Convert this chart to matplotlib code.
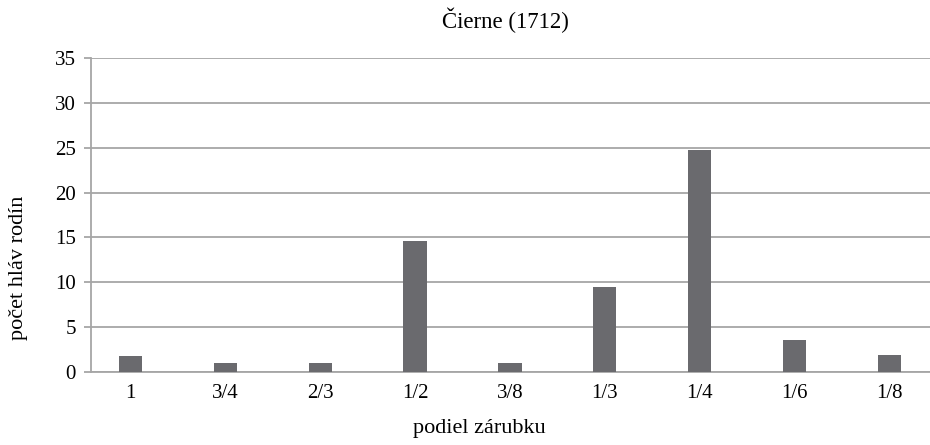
import numpy as np
import matplotlib
matplotlib.use('Agg')
import matplotlib.pyplot as plt

# podiel zarubku vs pocet hlav rodin
categories = ['1', '3/4', '2/3', '1/2', '3/8', '1/3', '1/4', '1/6', '1/8']
counts = [1.8, 1.0, 1.0, 14.6, 1.0, 9.5, 24.8, 3.6, 1.9]
yticks = [0, 5, 10, 15, 20, 25, 30, 35]

plt.rcParams['font.family'] = ['Liberation Serif', 'DejaVu Serif']
plt.rcParams['font.size'] = 15

fig = plt.figure(figsize=(9.3, 4.45), dpi=100)
ax = fig.add_axes([91/930, 73/445, 1 - 91/930, 314/445])

x = np.arange(len(categories))
ax.bar(x, counts, width=0.245, color='#6a6a6e', zorder=3)

gridc = '#a6a6a6'
ax.set_ylim(0, 35)
ax.set_yticks(yticks)
ax.set_xlim(-0.417, 8.43)
ax.set_xticks(x)
ax.set_xticklabels(categories)
ax.yaxis.grid(True, color=gridc, linewidth=1.3, zorder=0)
ax.tick_params(axis='y', length=5, color=gridc, width=1.3, pad=6)
ax.tick_params(axis='x', length=0, pad=9)

for s in ['top', 'right']:
    ax.spines[s].set_visible(False)
ax.spines['left'].set_color(gridc)
ax.spines['left'].set_linewidth(1.3)
ax.spines['bottom'].set_color(gridc)
ax.spines['bottom'].set_linewidth(1.3)

# titles placed like in the original figure
fig.text(505/930, 1 - 20/445, 'Čierne (1712)', fontsize=16.5, ha='center', va='center')
fig.text(479/930, 1 - 428/445, 'podiel zárubku', fontsize=16, ha='center', va='center')
fig.text(18/930, 1 - 268/445, 'počet hláv rodín', fontsize=16, ha='center', va='center',
         rotation=90)

fig.savefig('out.png', dpi=100)
